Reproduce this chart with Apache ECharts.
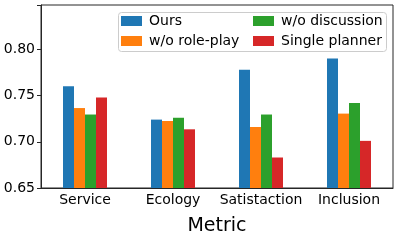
<!DOCTYPE html>
<html><head><meta charset="utf-8">
<script src="https://cdn.jsdelivr.net/npm/echarts@6/dist/echarts.min.js"></script>
<style>html,body{margin:0;padding:0;background:#fff}#c{width:398px;height:241px}</style>
</head><body><div id="c"></div>
<script>
const categories = ['Service', 'Ecology', 'Satistaction', 'Inclusion'];
const seriesNames = ['Ours', 'w/o role-play', 'w/o discussion', 'Single planner'];
const ours = [0.760, 0.724, 0.778, 0.790];
const woRolePlay = [0.7365, 0.7225, 0.716, 0.7305];
const woDiscussion = [0.7295, 0.726, 0.7295, 0.742];
const singlePlanner = [0.748, 0.7135, 0.683, 0.701];
const yTicks = [0.65, 0.70, 0.75, 0.80];
const colors = ['#1f77b4', '#ff7f0e', '#2ca02c', '#d62728'];
const values = [ours, woRolePlay, woDiscussion, singlePlanner];
const font = 'DejaVu Sans';
const chart = echarts.init(document.getElementById('c'), null, {renderer: 'canvas'});
const legendBase = {
  orient: 'vertical', top: 14,
  itemWidth: 21, itemHeight: 10, itemGap: 6, padding: 0,
  textStyle: {fontFamily: font, fontSize: 14, color: '#000', padding: [0, 0, 0, 2]},
  icon: 'rect'
};
chart.setOption({
  animation: false,
  grid: {left: 41, right: 5, top: 5, bottom: 46, show: true, borderColor: '#262626', borderWidth: 1, backgroundColor: 'transparent'},
  graphic: [{
    type: 'rect', left: 118, top: 12, z: 3,
    shape: {width: 268, height: 39, r: 3},
    style: {fill: 'rgba(255,255,255,0.8)', stroke: '#cccccc', lineWidth: 1}
  }],
  legend: [
    Object.assign({}, legendBase, {left: 121, data: seriesNames.slice(0, 2)}),
    Object.assign({}, legendBase, {left: 253, data: seriesNames.slice(2, 4)})
  ],
  xAxis: {
    type: 'category', data: categories,
    name: 'Metric', nameLocation: 'middle', nameGap: 29,
    nameTextStyle: {fontFamily: font, fontSize: 19, color: '#000'},
    axisLine: {lineStyle: {color: '#262626'}},
    axisTick: {alignWithLabel: true, length: 4, lineStyle: {color: '#262626'}},
    axisLabel: {interval: 0, fontFamily: font, fontSize: 14, color: '#000', margin: 5}
  },
  yAxis: {
    type: 'value', min: 0.65, max: 0.848, interval: 0.05,
    axisLine: {show: true, lineStyle: {color: '#262626'}},
    axisTick: {show: true, length: 4, lineStyle: {color: '#262626'}},
    splitLine: {show: false},
    axisLabel: {fontFamily: font, fontSize: 14, color: '#000', margin: 6,
      formatter: v => yTicks.some(t => Math.abs(t - v) < 1e-6) ? v.toFixed(2) : ''}
  },
  series: seriesNames.map((n, i) => ({
    name: n, type: 'bar', data: values[i], barWidth: 11, barGap: '0%',
    itemStyle: {color: colors[i]}
  }))
});
</script></body></html>
